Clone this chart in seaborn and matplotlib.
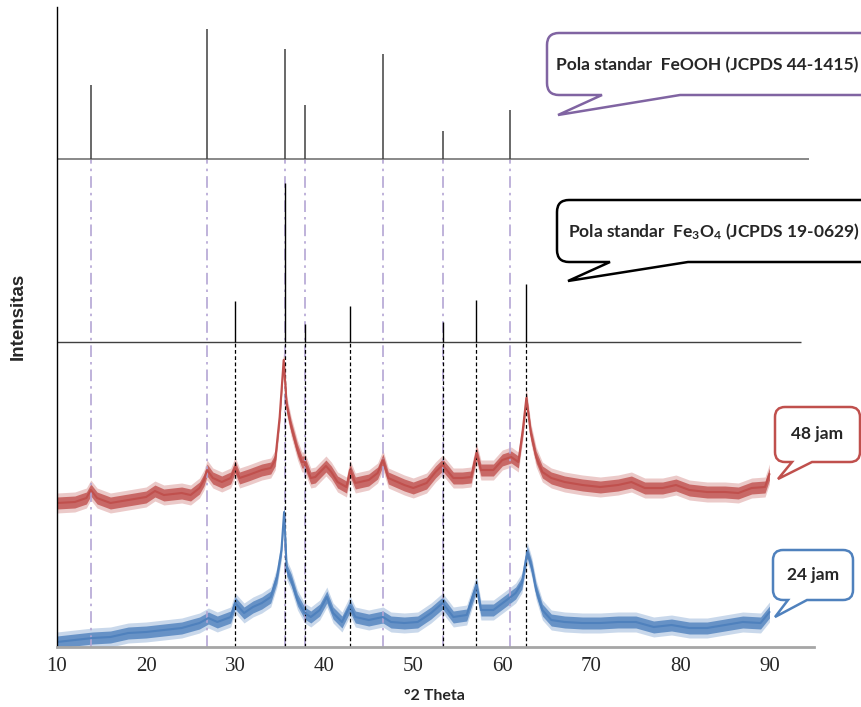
import numpy as np
import matplotlib
matplotlib.use("Agg")
import matplotlib.pyplot as plt
import seaborn as sns
from matplotlib.path import Path
from matplotlib.patches import PathPatch

# 48 jam pattern (red), intensity in arbitrary units
red_x = [10, 12, 13.3, 13.8, 14.5, 16, 18, 20, 21, 22, 24, 25, 26, 26.5, 26.85,
         27.5, 28.5, 29.5, 30, 30.5, 31.5, 33, 34, 34.5, 35, 35.45, 35.8, 36.3,
         37, 37.5, 37.8, 38.5, 39, 40.2, 40.8, 41.5, 42.5, 42.9, 43.5, 45, 46,
         46.6, 47.2, 49, 50, 51.5, 52.5, 53.3, 54.5, 55.5, 56.5, 57.1, 57.6,
         59, 60, 61, 61.8, 62.3, 62.7, 63.2, 63.8, 64.5, 65.5, 67, 69, 71, 73,
         74.5, 76, 78, 79.5, 81, 83, 85, 86.5, 88, 89.5, 90]
red_y = [144, 145, 149, 157, 149, 144, 147, 150, 156, 152, 154, 152, 159, 167, 177,
         169, 165, 169, 180, 169, 172, 177, 179, 187, 230, 287, 241, 220,
         197, 185, 185, 169, 170, 181, 175, 165, 160, 177, 164, 167, 174,
         187, 169, 162, 159, 164, 175, 182, 169, 169, 170, 194, 177,
         177, 187, 190, 185, 217, 249, 214, 190, 175, 169, 165, 162, 160, 162,
         165, 159, 159, 162, 157, 155, 155, 154, 159, 160, 173]

# 24 jam pattern (blue)
blue_x = [10, 12, 14, 16, 18, 20, 22, 24, 26, 27, 28, 29.5, 30, 31, 32, 33, 34,
          34.7, 35.2, 35.5, 35.8, 36.3, 37, 37.8, 38.5, 39.5, 40.3, 41, 42,
          42.9, 43.5, 45, 46.6, 47.5, 49, 50.5, 52, 53.3, 54.5, 56, 57.1, 57.6,
          59, 60.5, 61.5, 62.2, 62.8, 63.3, 63.8, 64.5, 65.5, 67, 69, 71, 73,
          75, 77, 79, 81, 83, 85, 87, 89, 90]
blue_y = [5, 7, 9, 10, 14, 15, 17, 19, 24, 29, 25, 30, 44, 34, 40, 44, 50,
          70, 97, 135, 77, 67, 47, 34, 30, 37, 50, 34, 25,
          41, 30, 27, 30, 25, 24, 25, 34, 44, 30, 32, 62, 37,
          37, 47, 54, 64, 95, 80, 57, 37, 27, 25, 24, 24, 25,
          25, 20, 22, 19, 19, 22, 25, 24, 35]

# standard patterns
feooh_pos = [13.8, 26.85, 35.55, 37.8, 46.6, 53.3, 60.9]
feooh_int = [74, 130, 110, 54, 105, 28, 49]
fe3o4_pos = [30.0, 35.55, 37.8, 42.9, 53.3, 57.1, 62.65]
fe3o4_int = [41, 159, 18, 36, 20, 42, 58]

feooh_base = 488
fe3o4_base = 305

x_ticks = [10, 20, 30, 40, 50, 60, 70, 80, 90]

W, H = 862, 707

sns.set_style("white")
plt.rcParams["font.family"] = ["Lato", "DejaVu Sans"]
plt.rcParams["mathtext.default"] = "regular"

fig = plt.figure(figsize=(W / 100, H / 100), dpi=100)
ax = fig.add_axes([57 / W, 60 / H, (814 - 57) / W, 640 / H])

# guide lines down to the patterns
ax.vlines(feooh_pos, 0, feooh_base, colors="#b4a6d4", linewidth=1.2,
          linestyles=(0, (7, 3, 1.5, 3)))
ax.vlines(fe3o4_pos, 0, fe3o4_base, colors="black", linewidth=0.9,
          linestyles=(0, (3, 2)))

# stick patterns
ax.hlines(feooh_base, 10, 94.4, colors="#7f7f7f", linewidth=1.3)
ax.hlines(fe3o4_base, 10, 93.5, colors="#404040", linewidth=1.0)
ax.vlines(feooh_pos, feooh_base, np.array(feooh_int) + feooh_base,
          colors="#404040", linewidth=1.1)
ax.vlines(fe3o4_pos, fe3o4_base, np.array(fe3o4_int) + fe3o4_base,
          colors="black", linewidth=1.0)

# measured patterns (noisy band + mean line)
for xs, ys, col in [(red_x, red_y, "#c0504d"), (blue_x, blue_y, "#4f81bd")]:
    ys = np.array(ys)
    ax.fill_between(xs, ys - 10, ys + 10, color=col, alpha=0.3, linewidth=0)
    ax.fill_between(xs, ys - 6, ys + 6, color=col, alpha=0.8, linewidth=0)
    sns.lineplot(x=xs, y=ys, color=col, linewidth=1.5, ax=ax)

ax.set_xlim(10, 95)
ax.set_ylim(0, 640)
ax.set_xticks(x_ticks)
ax.set_xticklabels([str(t) for t in x_ticks], family="Liberation Serif",
                   fontsize=15)
ax.set_yticks([])
ax.tick_params(axis="x", direction="in", length=4, color="#a6a6a6", pad=7)
ax.spines["top"].set_visible(False)
ax.spines["right"].set_visible(False)
ax.spines["left"].set_color("black")
ax.spines["left"].set_linewidth(1.0)
ax.spines["bottom"].set_color("#a6a6a6")
ax.spines["bottom"].set_linewidth(2.0)
ax.set_xlabel("")
ax.set_ylabel("")

fig.text(434 / W, 1 - 696 / H, "°2 Theta", ha="center", va="center",
         fontsize=11.5, fontweight="bold")
fig.text(18 / W, 1 - 316 / H, "Intensitas", ha="center", va="center",
         rotation=90, fontsize=13.5, fontweight="bold",
         family="Liberation Sans")


def callout(left, top, right, bottom, r, b1, tip, b2):
    pts = [
        (left + r, top), (right - r, top),
        (right, top), (right, top + r),
        (right, bottom - r),
        (right, bottom), (right - r, bottom),
        (b2, bottom), tip, (b1, bottom),
        (left + r, bottom),
        (left, bottom), (left, bottom - r),
        (left, top + r),
        (left, top), (left + r, top),
        (left + r, top),
    ]
    codes = [Path.MOVETO, Path.LINETO,
             Path.CURVE3, Path.CURVE3,
             Path.LINETO,
             Path.CURVE3, Path.CURVE3,
             Path.LINETO, Path.LINETO, Path.LINETO,
             Path.LINETO,
             Path.CURVE3, Path.CURVE3,
             Path.LINETO,
             Path.CURVE3, Path.CURVE3,
             Path.CLOSEPOLY]
    return Path([(px / W, 1 - py / H) for px, py in pts], codes)


boxes = [
    (547, 33, 880, 95, 12, 602, (558, 115), 680, "#8064a2"),
    (557, 200, 880, 262, 12, 610, (568, 281), 688, "black"),
    (775, 407, 860, 462, 10, 792, (778, 479), 812, "#c0504d"),
    (773, 550, 853, 600, 10, 788, (775, 617), 807, "#4f81bd"),
]
for l, t, r_, b, rad, b1, tip, b2, ec in boxes:
    fig.add_artist(PathPatch(callout(l, t, r_, b, rad, b1, tip, b2),
                             transform=fig.transFigure, facecolor="white",
                             edgecolor=ec, linewidth=1.8))

fig.text(707 / W, 1 - 65 / H, "Pola standar  FeOOH (JCPDS 44-1415)",
         ha="center", va="center", fontsize=12.5, fontweight="bold")
fig.text(714 / W, 1 - 232 / H, "Pola standar  Fe$_3$O$_4$ (JCPDS 19-0629)",
         ha="center", va="center", fontsize=12.5, fontweight="bold")
fig.text(817 / W, 1 - 434 / H, "48 jam", ha="center", va="center",
         fontsize=12.5, fontweight="bold")
fig.text(813 / W, 1 - 575 / H, "24 jam", ha="center", va="center",
         fontsize=12.5, fontweight="bold")

fig.savefig("out.png", dpi=100)
